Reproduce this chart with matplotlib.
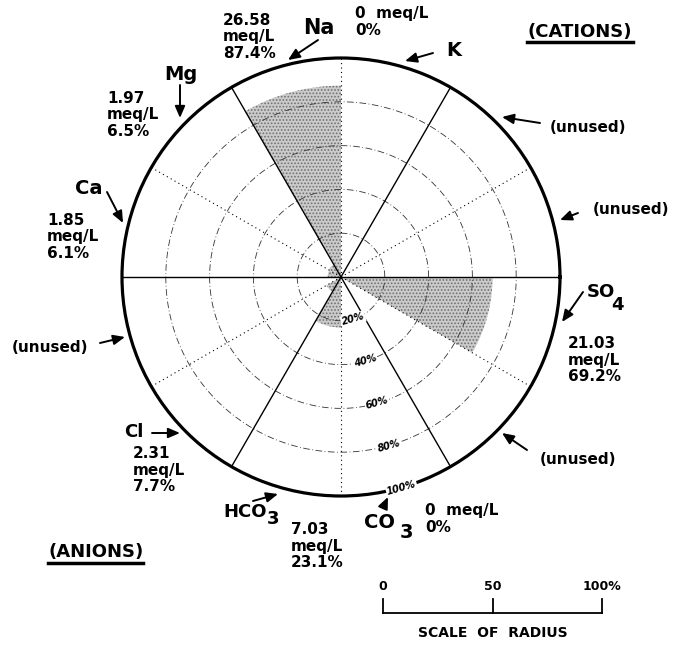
import numpy as np
import matplotlib
matplotlib.use("Agg")
import matplotlib.pyplot as plt

# -------------------- data --------------------
cation_names = ["K", "Na", "Mg", "Ca"]
cation_meq = [0.0, 26.58, 1.97, 1.85]
cation_pct = [0.0, 87.4, 6.5, 6.1]

anion_names = ["SO4", "CO3", "HCO3", "Cl"]
anion_meq = [21.03, 0.0, 7.03, 2.31]
anion_pct = [69.2, 0.0, 23.1, 7.7]

# sector centres (deg, counter-clockwise from east), 30 deg wide
cation_sector = [75, 105, 135, 165]
anion_sector = [345, 285, 255, 225]

ring_levels = [20, 40, 60, 80, 100]
scale_ticks = [0, 50, 100]

# -------------------- figure --------------------
plt.rcParams["font.family"] = "DejaVu Sans"
plt.rcParams["font.weight"] = "bold"
plt.rcParams["hatch.linewidth"] = 0.8

W, H = 686, 645
fig = plt.figure(figsize=(W / 100, H / 100), dpi=100)

cx, cy, R = 341, 277, 219
ax = fig.add_axes([(cx - R) / W, 1 - (cy + R) / H, 2 * R / W, 2 * R / H],
                  projection="polar")
ax.set_ylim(0, 100)
ax.set_xticks([])
ax.set_yticks([])
ax.grid(False)
ax.spines["polar"].set_linewidth(2.3)

width = np.deg2rad(30)
for sectors, pct in [(cation_sector, cation_pct), (anion_sector, anion_pct)]:
    ax.bar(np.deg2rad(sectors), pct, width=width, color="#cbcbcb",
           edgecolor="#707070", linewidth=0, hatch=".....", zorder=1)

# rings
th = np.linspace(0, 2 * np.pi, 400)
for r in ring_levels[:-1]:
    ax.plot(th, np.full_like(th, r), ls=(0, (8, 3, 1, 3)), lw=0.6,
            color="#333333", zorder=2)

# sector dividers: solid every 60 deg, dotted in between
for a in range(0, 360, 30):
    t = np.deg2rad(a)
    if a % 60 == 0:
        ax.plot([t, t], [0, 100], color="black", lw=1.0, zorder=3)
    else:
        ax.plot([t, t], [0, 100], color="black", lw=0.8, ls=(0, (1, 3)), zorder=3)

for r in ring_levels:
    ax.text(np.deg2rad(-74), r, f"{r}%", rotation=16, ha="center", va="center",
            fontsize=7, style="italic", zorder=6,
            bbox=dict(fc="white", ec="none", pad=0.6))

# -------------------- annotations (pixel overlay) --------------------
ov = fig.add_axes([0, 0, 1, 1])
ov.set_xlim(0, W)
ov.set_ylim(H, 0)
ov.axis("off")

arrow_kw = dict(arrowstyle="-|>,head_length=0.7,head_width=0.3", color="black",
                lw=1.4, shrinkA=0, shrinkB=0)


def arrow(tail, tip):
    ov.annotate("", xy=tip, xytext=tail, arrowprops=arrow_kw)


def block(x, y, meq, pct):
    if meq == 0:
        s = "0  meq/L\n0%"
    else:
        s = f"{meq:.2f}\nmeq/L\n{pct:.1f}%"
    ov.text(x, y, s, ha="left", va="center", fontsize=11, linespacing=1.1)


# cations
ov.text(303, 28, cation_names[1], fontsize=15, ha="left", va="center")
arrow((318, 40), (288, 60))
block(223, 37, cation_meq[1], cation_pct[1])

ov.text(446, 50, cation_names[0], fontsize=14, ha="left", va="center")
arrow((433, 53), (405, 61))
block(355, 22, cation_meq[0], cation_pct[0])

ov.text(181, 75, cation_names[2], fontsize=14, ha="center", va="center")
arrow((180, 85), (180, 118))
block(107, 115, cation_meq[2], cation_pct[2])

ov.text(103, 188, cation_names[3], fontsize=14, ha="right", va="center")
arrow((107, 192), (123, 223))
block(47, 237, cation_meq[3], cation_pct[3])

# anions
ov.text(587, 292, "SO", fontsize=13, ha="left", va="center")
ov.text(611, 305, "4", fontsize=13, ha="left", va="center")
arrow((583, 292), (562, 322))
block(568, 360, anion_meq[0], anion_pct[0])

ov.text(364, 522, "CO", fontsize=14, ha="left", va="center")
ov.text(400, 532, "3", fontsize=14, ha="left", va="center")
arrow((383, 508), (388, 497))
block(425, 519, anion_meq[1], anion_pct[1])

ov.text(223, 512, "HCO", fontsize=13, ha="left", va="center")
ov.text(267, 519, "3", fontsize=13, ha="left", va="center")
arrow((253, 501), (278, 494))
block(291, 546, anion_meq[2], anion_pct[2])

ov.text(124, 432, anion_names[3], fontsize=13, ha="left", va="center")
arrow((152, 433), (180, 433))
block(133, 470, anion_meq[3], anion_pct[3])

# unused sectors
for (tx, ty, ha), (tail, tip) in zip(
        [(550, 127, "left"), (593, 209, "left"), (540, 460, "left"), (88, 348, "right")],
        [((540, 123), (502, 117)), ((578, 213), (560, 220)),
         ((527, 450), (502, 433)), ((100, 343), (125, 337))]):
    ov.text(tx, ty, "(unused)", fontsize=11, ha=ha, va="center")
    arrow(tail, tip)

# group titles
ov.text(580, 32, "(CATIONS)", fontsize=13, ha="center", va="center")
ov.plot([527, 633], [42, 42], color="black", lw=2.5)
ov.text(96, 552, "(ANIONS)", fontsize=13, ha="center", va="center")
ov.plot([48, 143], [563, 563], color="black", lw=2.5)

# scale of radius (bar length = circle radius)
x0, yb = 383, 613
xs = [x0 + R * v / 100 for v in scale_ticks]
ov.plot([xs[0], xs[-1]], [yb, yb], color="black", lw=1.3)
for x, v in zip(xs, scale_ticks):
    ov.plot([x, x], [yb, yb - 14], color="black", lw=1.3)
    ov.text(x, 587, f"{v}%" if v == 100 else f"{v}", fontsize=9,
            ha="center", va="center")
ov.text((xs[0] + xs[-1]) / 2, 633, "SCALE  OF  RADIUS", fontsize=10,
        ha="center", va="center")

fig.savefig("out.png", dpi=100)
